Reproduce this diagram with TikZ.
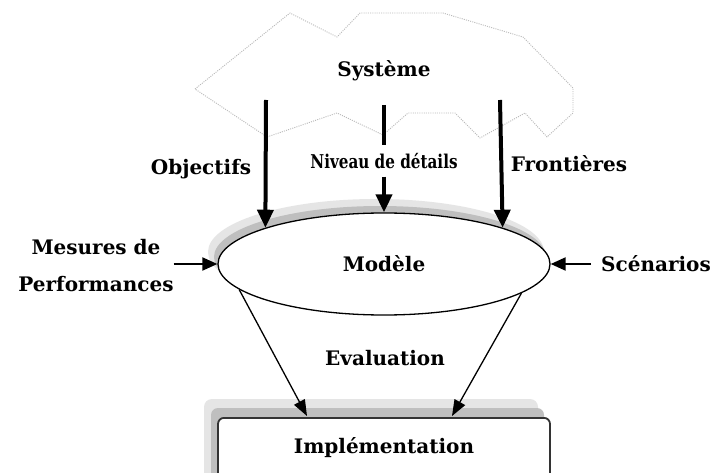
\documentclass[tikz,border=0pt]{standalone}
\usepackage{fontspec}
\setmainfont{DejaVu Serif}
\usepackage{graphicx}
\usetikzlibrary{arrows.meta,shapes.geometric}

\begin{document}
\begin{tikzpicture}[x=1pt,y=-1pt,
  lbl/.style={font=\bfseries\fontsize{20}{24}\selectfont, inner sep=0pt},
  heavy/.style={line width=4pt, -{Triangle[width=16pt,length=18pt]}},
  thin/.style={line width=1.3pt, -{Triangle[width=12pt,length=16pt]}},
  side/.style={line width=2pt, -{Triangle[width=13pt,length=15pt]}},
  boundary/.style={draw=gray!55, line width=0.9pt, dash pattern=on 1pt off 1.2pt, line join=round},
  softshade/.style={fill=gray!20},
  darkshade/.style={fill=gray!50},
]
\clip (0,0) rectangle (717,473);
\fill[white] (0,0) rectangle (717,473);

% system boundary (dotted cloud)
\draw[boundary] (195,89) -- (290,13) -- (337,37) -- (360,13) -- (443,13)
  -- (523,37) -- (573,88) -- (573,113) -- (547,137) -- (525,113)
  -- (480,138) -- (455,113) -- (408,113) -- (383,135) -- (337,113)
  -- (267,137) -- cycle;
\node[lbl, anchor=base] (sys) at (384,77) {Système};

% shadow of the model ellipse
\fill[softshade] (376,252) ellipse [x radius=168, y radius=53];
\fill[darkshade] (380,257) ellipse [x radius=166, y radius=51];
\node (mod) [ellipse, draw, line width=1.3pt, fill=white, lbl,
  minimum width=332pt, minimum height=102pt] at (384,264) {Modèle};

% shadow of the implementation box
\fill[softshade, rounded corners=8pt] (204,399) rectangle (538,520);
\fill[darkshade, rounded corners=7pt] (211,408) rectangle (544,520);
\node (impl) [draw=black!80, line width=1.8pt, rounded corners=6pt, fill=white, lbl,
  minimum width=332pt, text height=36pt, text depth=44pt, anchor=north]
  at (384,417) {Implémentation};

% inputs from the system
\coordinate (sL) at (266,100);
\coordinate (sM) at (384,105);
\coordinate (sR) at (500,100);
\node[lbl, anchor=base] (obj) at (201,175) {Objectifs};
\node[lbl, anchor=base] (fro) at (569,172) {Frontières};
\node (niv) [font=\bfseries\fontsize{19}{22}\selectfont, inner sep=0pt, minimum height=31pt]
  at (384,161) {\scalebox{0.8}[1]{Niveau de détails}};
\draw[heavy] (sL) -- (mod.163);
\draw[line width=4pt] (sM) -- (niv.north);
\draw[heavy] (niv.south) -- (mod.north);
\draw[heavy] (sR) -- (mod.17.5);

% side inputs
\node (mes) [lbl, font=\bfseries\fontsize{20}{37}\selectfont, align=center]
  at (96,266) {Mesures de\\Performances};
\node (sce) [lbl, inner xsep=10pt] at (656,264) {Scénarios};
\draw[side] (mes.east |- mod.west) -- (mod.west);
\draw[side] (sce.west) -- (mod.east);

% evaluation towards implementation
\node[lbl, anchor=base] (eva) at (385,365) {Evaluation};
\coordinate (iL) at (307,416);
\coordinate (iR) at (452,416);
\draw[thin] (mod.190) -- (iL);
\draw[thin] (mod.348) -- (iR);
\end{tikzpicture}
\end{document}
